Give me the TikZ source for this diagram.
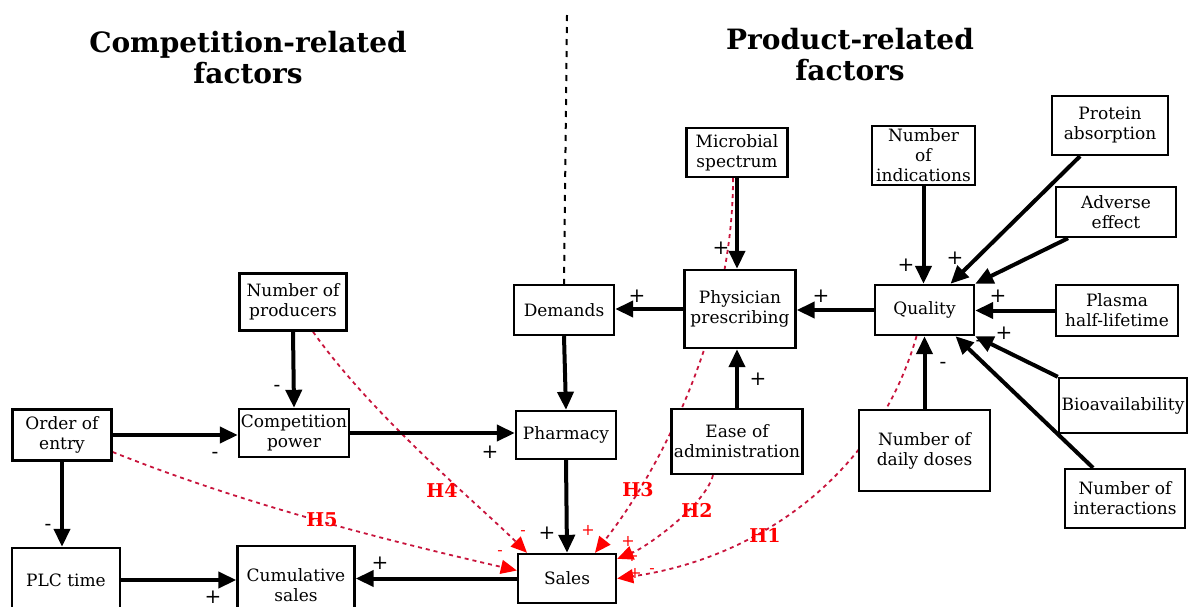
\documentclass[tikz,border=0pt]{standalone}
\usepackage{fontspec}
\setmainfont{DejaVu Serif}
\usetikzlibrary{arrows.meta,backgrounds}
\definecolor{hypred}{RGB}{200,20,60}
\begin{document}
\begin{tikzpicture}
    [x=0.5pt, y=-0.5pt,
     box/.style={draw, line width=1.2pt, fill=white, align=center, inner sep=1pt,
       font=\fontsize{8.5}{10}\selectfont},
     link/.style={line width=2pt, -{Triangle[length=9pt,width=8pt]}},
     hyp/.style={draw=hypred, line width=0.9pt, dash pattern=on 2pt off 2pt,
       -{Triangle[length=8pt,width=7pt,color=red]}},
     sgn/.style={inner sep=0pt, font=\fontsize{10}{10}\selectfont},
     redsgn/.style={sgn, text=red, font=\fontsize{8}{8}\selectfont},
     hlab/.style={inner sep=0pt, text=red, font=\bfseries\fontsize{9.5}{9.5}\selectfont},
     ttl/.style={align=center, font=\bfseries\fontsize{14}{15.5}\selectfont}]
    \useasboundingbox (0,0) rectangle (1188,606);

    % titles and divider
    \node[ttl] (ctitle) at (248,58) {Competition-related\\factors};
    \node[ttl] (ptitle) at (850,55) {Product-related\\factors};

    % competition side
    \node[box, minimum width=53.5pt, minimum height=28.5pt] (prod) at (293,302) {Number of\\producers};
    \node[box, minimum width=49.5pt, minimum height=25.5pt] (order) at (62,435) {Order of\\entry};
    \node[box, minimum width=54.5pt, minimum height=24pt] (comp) at (294,433) {Competition\\power};
    \node[box, minimum width=54pt, minimum height=32pt] (plc) at (66,580) {PLC time};
    \node[box, minimum width=58.5pt, minimum height=39pt] (cum) at (296,585) {Cumulative\\sales};
    \node[box, minimum width=50pt, minimum height=25pt] (dem) at (564,310) {Demands};
    \node[box, minimum width=50pt, minimum height=24pt] (pharm) at (566,435) {Pharmacy};
    \node[box, minimum width=49pt, minimum height=24.5pt] (sales) at (567,578.5) {Sales};

    % product side
    \node[box, minimum width=55.5pt, minimum height=39pt] (phys) at (740,309) {Physician\\prescribing};
    \node[box, minimum width=50.5pt, minimum height=24.5pt] (micro) at (737,152.5) {Microbial\\spectrum};
    \node[box, minimum width=65.5pt, minimum height=32.5pt] (ease) at (737,441.5) {Ease of\\administration};
    \node[box, minimum width=51.5pt, minimum height=29.5pt] (ind) at (923.5,155.5) {Number\\of\\indications};
    \node[box, minimum width=49.5pt, minimum height=25pt] (qual) at (924.5,310) {Quality};
    \node[box, minimum width=58pt, minimum height=29.5pt] (prot) at (1110,125.5) {Protein\\absorption};
    \node[box, minimum width=60pt, minimum height=25pt] (adv) at (1116,212) {Adverse\\effect};
    \node[box, minimum width=61pt, minimum height=25.5pt] (plasma) at (1117,310.5) {Plasma\\half-lifetime};
    \node[box, minimum width=64pt, minimum height=27.5pt] (bio) at (1123,405.5) {Bioavailability};
    \node[box, minimum width=65.5pt, minimum height=40.5pt] (doses) at (924.5,450.5) {Number of\\daily doses};
    \node[box, minimum width=60pt, minimum height=29.5pt] (inter) at (1125,498.5) {Number of\\interactions};

    \coordinate (divtop) at (567,15);
    \draw[dashed, line width=1pt] (divtop) -- (dem.north);

    % causal links
    \draw[link] (prod.south) -- (comp.north);
    \draw[link] (order.east) -- (order.east -| comp.west);
    \draw[link] (order.south) -- (order.south |- plc.north);
    \draw[link] (plc.east) -- (plc.east -| cum.west);
    \draw[link] (comp.east) -- (comp.east -| pharm.west);
    \draw[link] (dem.south) -- (pharm.north);
    \draw[link] (pharm.south) -- (sales.north);
    \draw[link] (sales.west) -- (sales.west -| cum.east);
    \draw[link] (phys.west) -- (phys.west -| dem.east);
    \draw[link] (micro.south) -- (micro.south |- phys.north);
    \draw[link] (ease.north) -- (ease.north |- phys.south);
    \draw[link] (qual.west) -- (qual.west -| phys.east);
    \draw[link] (ind.south) -- (ind.south |- qual.north);
    \draw[link] ([xshift=-15pt]prot.south) -- ([xshift=13pt]qual.north);
    \draw[link] ([xshift=-24pt]adv.south) -- (qual.north east);
    \draw[link] (plasma.west) -- (plasma.west -| qual.east);
    \draw[link] (bio.north west) -- (qual.south east);
    \draw[link] ([xshift=-16pt]inter.north) -- ([xshift=15.5pt]qual.south);
    \draw[link] (doses.north) -- (doses.north |- qual.south);

    % hypotheses
    \begin{scope}[on background layer]
      \draw[hyp] ([yshift=-8.5pt]order.east) .. controls +(130,52) and +(-130,-30) .. ([yshift=4pt]sales.west);
      \draw[hyp] ([xshift=10pt]prod.south) .. controls +(60,85) and +(-45,-45) .. ([xshift=-20pt]sales.north);
      \draw[hyp] ([xshift=-2pt]micro.south) .. controls +(0,153) and +(63,-80) .. ([xshift=14pt]sales.north);
      \draw[hyp] ([xshift=-12pt]ease.south) .. controls +(-8,30) and +(30,-12) .. ([yshift=-3pt]sales.north east);
      \draw[hyp] ([xshift=-4pt]qual.south) .. controls +(-40,140) and +(140,-20) .. (sales.east);
    \end{scope}
    \node[hlab] (h5) at (322,520) {H5};
    \node[hlab] (h4) at (442,490) {H4};
    \node[hlab] (h3) at (638,490) {H3};
    \node[hlab] (h2) at (697,510) {H2};
    \node[hlab] (h1) at (765,535) {H1};

    % signs
    \node[sgn] (s1) at (277,388) {-};
    \node[sgn] (s2) at (215,455) {-};
    \node[sgn] (s3) at (48,527) {-};
    \node[sgn] (s4) at (213,597) {+};
    \node[sgn] (s5) at (380,563) {+};
    \node[sgn] (s6) at (490,452) {+};
    \node[sgn] (s7) at (547,533) {+};
    \node[sgn] (s8) at (637,296) {+};
    \node[sgn] (s9) at (721,248) {+};
    \node[sgn] (s10) at (758,379) {+};
    \node[sgn] (s11) at (821,296) {+};
    \node[sgn] (s12) at (906,265) {+};
    \node[sgn] (s13) at (955,258) {+};
    \node[sgn] (s14) at (998,296) {+};
    \node[sgn] (s15) at (1004,333) {+};
    \node[sgn] (s16) at (979,343) {-};
    \node[sgn] (s17) at (943,365) {-};
    \node[redsgn] (r1) at (500,553) {-};
    \node[redsgn] (r2) at (523,533) {-};
    \node[redsgn] (r3) at (588,530) {+};
    \node[redsgn] (r4) at (628,541) {+};
    \node[redsgn] (r5) at (632,556) {+};
    \node[redsgn] (r6) at (635,573) {+};
    \node[redsgn] (r7) at (652,571) {-};
\end{tikzpicture}
\end{document}
